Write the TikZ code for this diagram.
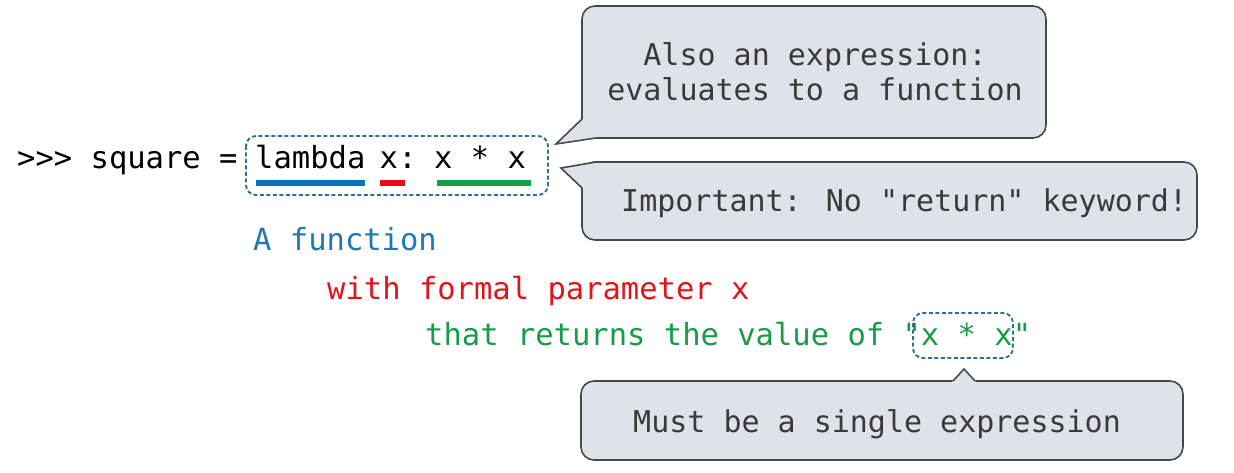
\documentclass[tikz,border=0pt]{standalone}
\usepackage{fontspec}
\newfontfamily\codefont{DejaVu Sans Mono}
\definecolor{fnblue}{RGB}{31,120,180}
\definecolor{fnred}{RGB}{226,20,26}
\definecolor{fngreen}{RGB}{24,155,72}
\definecolor{barblue}{RGB}{10,114,188}
\definecolor{barred}{RGB}{232,12,18}
\definecolor{bargreen}{RGB}{20,160,72}
\definecolor{boxblue}{RGB}{52,108,152}
\definecolor{bubblefill}{RGB}{221,227,233}
\definecolor{bubbleline}{RGB}{72,72,72}
\definecolor{bubbletext}{RGB}{58,58,58}
\begin{document}
\begin{tikzpicture}[x=1pt,y=-1pt,
  code/.style={font=\codefont\fontsize{30.5}{36}\selectfont, inner sep=0pt, anchor=base west},
  note/.style={code, font=\codefont\fontsize{30}{36}\selectfont, text=bubbletext},
  ubar/.style={line width=5.5pt},
  dbox/.style={draw=boxblue, line width=1.9pt, dash pattern=on 4pt off 2.5pt, rounded corners=10pt},
  bubble/.style={fill=bubblefill, draw=bubbleline, line width=1.6pt, rounded corners=13pt},
  tipfill/.style={fill=bubblefill},
  tipline/.style={draw=bubbleline, line width=1.6pt, line join=miter}]
\useasboundingbox (0,0) rectangle (1234,473);

% the assignment and its lambda expression
\node[code] (prompt) at (17,169) {>>> square =};
\node[code] (lam)    at (255,169) {lambda};
\node[code] (par)    at (379.5,169) {x};
\node[code, anchor=base west] (colon) at (par.base east) {:};
\node[code] (body)   at (434,169) {x * x};

% coloured underlines
\draw[ubar, barblue]  ([xshift=1pt,yshift=-14pt]lam.base west)   -- ([xshift=-1pt,yshift=-14pt]lam.base east);
\draw[ubar, barred]   ([xshift=0.5pt,yshift=-14pt]par.base west) -- ([xshift=7pt,yshift=-14pt]par.base east);
\draw[ubar, bargreen] ([xshift=3pt,yshift=-14pt]body.base west)  -- ([xshift=5pt,yshift=-14pt]body.base east);

% dashed frame around the lambda expression
\draw[dbox] (246,136) rectangle (548,195);

% explanation lines
\node[code, text=fnblue]  (l1) at (253,251) {A function};
\node[code, text=fnred]   (l2) at (327,299) {with formal parameter x};
\node[code, text=fngreen] (l3) at (425,345) {that returns the value of "x * x"};
\draw[dbox] (913,313) rectangle (1013,358);

% callout: also an expression
\draw[bubble] (582,6) rectangle (1046,138);
\fill[tipfill] (582,119) -- (556,144) -- (596,138) -- (596,124) -- cycle;
\draw[tipline] (582,119) -- (556,144) -- (596,138);
\node[note, anchor=base] (c1a) at (815,66)  {Also an expression:};
\node[note, anchor=base] (c1b) at (815,101) {evaluates to a function};

% callout: no return keyword
\draw[bubble] (582,162) rectangle (1197,240);
\fill[tipfill] (596,162) -- (561,168) -- (582,188) -- (596,176) -- cycle;
\draw[tipline] (596,162) -- (561,168) -- (582,188);
\node[note] (c2) at (621,212) {Important: No "return" keyword!};

% callout: single expression
\draw[bubble] (581,381) rectangle (1183,460);
\fill[tipfill] (951,383) -- (964,369) -- (977,383) -- cycle;
\draw[tipline] (953,381) -- (964,369) -- (975,381);
\node[note] (c3) at (633,432) {Must be a single expression};
\end{tikzpicture}
\end{document}
